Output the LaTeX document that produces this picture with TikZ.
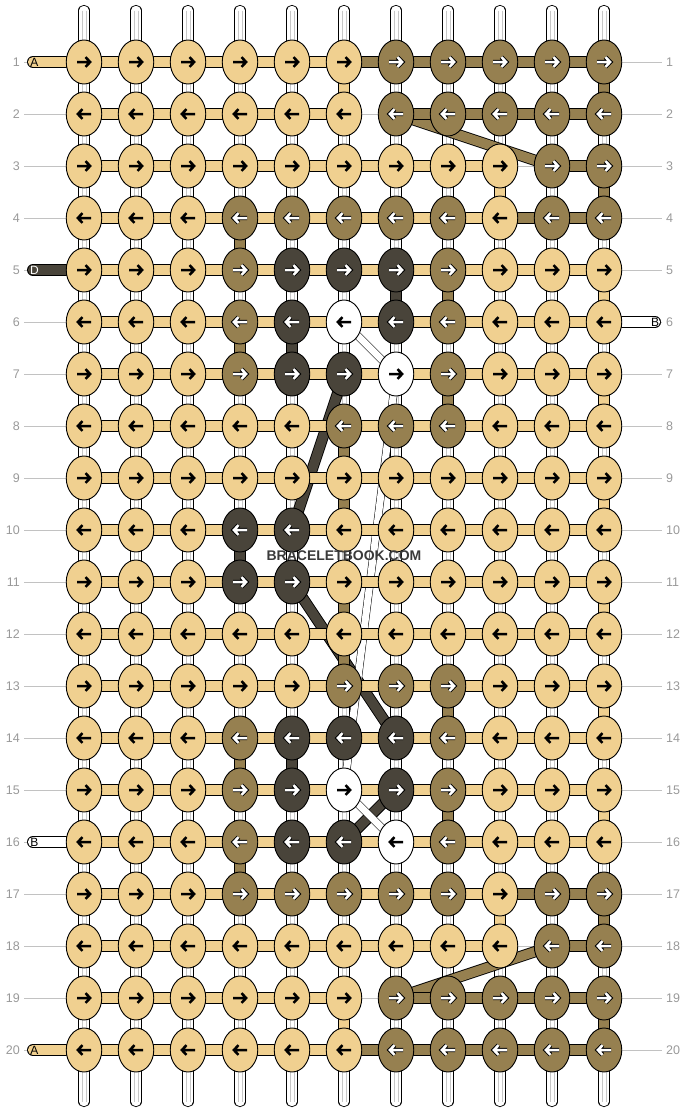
\documentclass[tikz,border=0pt]{standalone}
\usepackage{fontspec}
\setmainfont{Liberation Sans}
\usetikzlibrary{shapes.geometric}

\definecolor{colT}{HTML}{F0D090}
\definecolor{colB}{HTML}{968050}
\definecolor{colD}{HTML}{49443A}
\definecolor{colW}{HTML}{FFFFFF}
\colorlet{arrT}{black}
\colorlet{arrW}{black}
\colorlet{arrB}{white}
\colorlet{arrD}{white}
\colorlet{outT}{colT}
\colorlet{outW}{colW}
\colorlet{outB}{black}
\colorlet{outD}{black}
\definecolor{linegray}{HTML}{C2C2C2}
\definecolor{numgray}{HTML}{999999}
\definecolor{markgray}{HTML}{3A3A3A}

\pgfdeclarelayer{gridlayer}
\pgfdeclarelayer{warplayer}
\pgfdeclarelayer{strandlayer}
\pgfdeclarelayer{weftlayer}
\pgfsetlayers{gridlayer,warplayer,strandlayer,weftlayer,main}

\tikzset{
  knotcell/.style={ellipse, draw=black, line width=0.9pt, minimum width=35.5pt, minimum height=44pt, inner sep=0pt},
  arrowout/.style={line width=4.4pt, line join=miter},
  arrowcore/.style={line width=2.5pt, line join=miter},
  weft/.style={draw=black, line width=0.9pt, double distance=10.2pt, shorten <=-1pt, shorten >=-1pt},
  warp/.style={draw=black, line width=0.9pt, double=white, double distance=9.4pt, line cap=round},
  warpcore/.style={draw=black!22, line width=0.6pt},
  strand/.style={draw=black, line width=0.9pt, double distance=9.5pt},
  wire/.style={draw=black, line width=0.5pt, double=white, double distance=7pt},
  stub/.style={draw=black, line width=0.9pt, double distance=10.2pt, line cap=round},
  stubletter/.style={font=\fontsize{12}{12}\selectfont, inner sep=0pt},
  rowlabel/.style={text=numgray, font=\fontsize{12.5}{12.5}\selectfont, inner sep=4pt},
  rowline/.style={draw=linegray, line width=0.9pt},
}

\begin{document}
\begin{tikzpicture}[x=1pt, y=-1pt]
\useasboundingbox (0,0) rectangle (688,1112);

% Knots
\foreach \r/\cols in {1/{T,T,T,T,T,T,B,B,B,B,B}, 2/{T,T,T,T,T,T,B,B,B,B,B},
  3/{T,T,T,T,T,T,T,T,T,B,B}, 4/{T,T,T,B,B,B,B,B,T,B,B},
  5/{T,T,T,B,D,D,D,B,T,T,T}, 6/{T,T,T,B,D,W,D,B,T,T,T},
  7/{T,T,T,B,D,D,W,B,T,T,T}, 8/{T,T,T,T,T,B,B,B,T,T,T},
  9/{T,T,T,T,T,T,T,T,T,T,T}, 10/{T,T,T,D,D,T,T,T,T,T,T},
  11/{T,T,T,D,D,T,T,T,T,T,T}, 12/{T,T,T,T,T,T,T,T,T,T,T},
  13/{T,T,T,T,T,B,B,B,T,T,T}, 14/{T,T,T,B,D,D,D,B,T,T,T},
  15/{T,T,T,B,D,W,D,B,T,T,T}, 16/{T,T,T,B,D,D,W,B,T,T,T},
  17/{T,T,T,B,B,B,B,B,T,B,B}, 18/{T,T,T,T,T,T,T,T,T,B,B},
  19/{T,T,T,T,T,T,B,B,B,B,B}, 20/{T,T,T,T,T,T,B,B,B,B,B}}{
  \ifodd\r\relax\def\dir{1}\else\def\dir{-1}\fi
  \foreach \k [count=\c] in \cols {
    \node[knotcell, fill=col\k] (k\r-\c) at ({32+52*\c},{10+52*\r}) {};
    \begin{scope}[shift={(k\r-\c.center)}, x=\dir pt]
      \draw[arrowout, draw=out\k] (-7,0) -- (6.2,0) (1.5,-4.8) -- (6.2,0) -- (1.5,4.8);
      \draw[arrowcore, draw=arr\k] (-7,0) -- (6.2,0) (1.5,-4.8) -- (6.2,0) -- (1.5,4.8);
    \end{scope}
  }
}

% Row numbers
\foreach \r in {1,...,20}{
  \node[rowlabel, anchor=east] (nl\r) at (24,{10+52*\r}) {\r};
  \node[rowlabel, anchor=west] (nr\r) at (662,{10+52*\r}) {\r};
  \begin{pgfonlayer}{gridlayer}
    \draw[rowline] (nl\r) -- (nr\r);
  \end{pgfonlayer}
}

% Vertical strings
\foreach \c in {1,...,11}{
  \coordinate (wt\c) at ({32+52*\c},10.5);
  \coordinate (wb\c) at ({32+52*\c},1101.5);
  \begin{pgfonlayer}{warplayer}
    \draw[warp] (wt\c) -- (wb\c);
    \draw[warpcore] ([xshift=-2pt]wt\c) -- ([xshift=-2pt]wb\c)
      ([xshift=2pt]wt\c) -- ([xshift=2pt]wb\c);
  \end{pgfonlayer}
}

% Horizontal strings between knots (N = none)
\foreach \r/\bars in {1/{T,T,T,T,T,B,B,B,B,B}, 2/{T,T,T,T,T,N,B,B,B,B},
  3/{T,T,T,T,T,T,T,T,N,B}, 4/{T,T,T,T,T,T,T,T,B,B},
  5/{T,T,T,T,T,T,T,T,T,T}, 6/{T,T,T,T,T,T,T,T,T,T}, 7/{T,T,T,T,T,T,T,T,T,T},
  8/{T,T,T,T,T,T,T,T,T,T}, 9/{T,T,T,T,T,T,T,T,T,T}, 10/{T,T,T,T,T,T,T,T,T,T},
  11/{T,T,T,T,T,T,T,T,T,T}, 12/{T,T,T,T,T,T,T,T,T,T}, 13/{T,T,T,T,T,T,T,T,T,T},
  14/{T,T,T,T,T,T,T,T,T,T}, 15/{T,T,T,T,T,T,T,T,T,T}, 16/{T,T,T,T,T,T,T,T,T,T},
  17/{T,T,T,T,T,T,T,T,B,B}, 18/{T,T,T,T,T,T,T,T,N,B},
  19/{T,T,T,T,T,N,B,B,B,B}, 20/{T,T,T,T,T,B,B,B,B,B}}{
  \foreach \k [count=\c] in \bars {
    \pgfmathtruncatemacro\cn{\c+1}
    \if\k N\else
      \begin{pgfonlayer}{weftlayer}
        \draw[weft, double=col\k] (k\r-\c.east) -- (k\r-\cn.west);
      \end{pgfonlayer}
    \fi
  }
}

% Coloured pieces between rows
\begin{pgfonlayer}{weftlayer}
\foreach \r/\c/\k in {1/6/T, 1/11/B, 3/9/T, 3/11/B, 4/4/B, 5/7/D, 5/8/B, 5/11/T,
  6/4/B, 6/5/D, 7/8/B, 7/11/T, 8/6/B, 9/6/B, 9/11/T, 10/4/D, 11/6/B, 11/11/T,
  12/6/B, 13/8/B, 13/11/T, 14/4/B, 14/5/D, 15/8/B, 15/11/T, 16/4/B,
  17/9/T, 17/11/B, 19/6/T, 19/11/B}{
  \pgfmathtruncatemacro\rn{\r+1}
  \draw[weft, double=col\k] (k\r-\c.south) -- (k\rn-\c.north);
}
\end{pgfonlayer}

% Strands that change row
\begin{pgfonlayer}{strandlayer}
\draw[strand, double=colB] (k2-7.center) -- (k3-10.center);
\draw[strand, double=colB] (k18-10.center) -- (k19-7.center);
\draw[strand, double=colD] (k7-6.center) -- (k10-5.center);
\draw[strand, double=colD] (k11-5.center) -- (k14-7.center);
\draw[strand, double=colD] (k16-6.center) -- (k15-7.center);
\draw[wire] (k6-6.center) -- (k7-7.center);
\draw[wire] (k7-7.center) -- (k15-6.center);
\draw[wire] (k15-6.center) -- (k16-7.center);
\end{pgfonlayer}

% Loose ends
\coordinate (sA1) at (33,62);
\coordinate (sD5) at (33,270);
\coordinate (sB6) at (655,322);
\coordinate (sB16) at (33,842);
\coordinate (sA20) at (33,1050);
\begin{pgfonlayer}{weftlayer}
\draw[stub, double=colT] (sA1) -- (k1-1.center);
\draw[stub, double=colD] (sD5) -- (k5-1.center);
\draw[stub, double=colW] (sB6) -- (k6-11.center);
\draw[stub, double=colW] (sB16) -- (k16-1.center);
\draw[stub, double=colT] (sA20) -- (k20-1.center);
\end{pgfonlayer}
\node[stubletter, xshift=1.5pt] at (sA1) {A};
\node[stubletter, xshift=1.5pt, text=white] at (sD5) {D};
\node[stubletter] at (sB6) {B};
\node[stubletter, xshift=1.5pt] at (sB16) {B};
\node[stubletter, xshift=1.5pt] at (sA20) {A};

\node[font=\bfseries\fontsize{14}{14}\selectfont, text=markgray, inner sep=0pt] (mark) at (344,556) {BRACELETBOOK.COM};

\end{tikzpicture}
\end{document}
